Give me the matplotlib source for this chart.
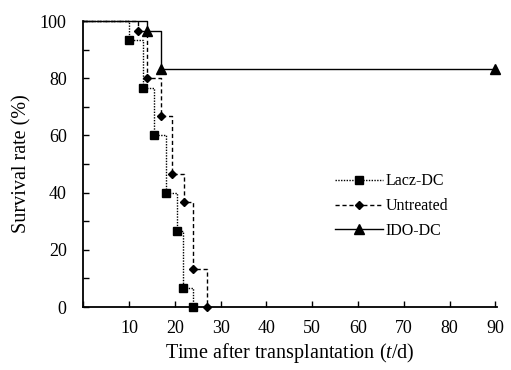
import matplotlib.pyplot as plt
from matplotlib.ticker import MultipleLocator

plt.rcParams['font.family'] = ['Liberation Serif', 'DejaVu Serif']
plt.rcParams['mathtext.fontset'] = 'custom'
plt.rcParams['mathtext.it'] = 'Liberation Serif:italic'
plt.rcParams['mathtext.rm'] = 'Liberation Serif'

# survival data (days, %), first point is the start of the curve
lacz_t = [0, 10, 13, 15.5, 18, 20.5, 21.7, 24]
lacz_s = [100, 93.3, 76.7, 60, 40, 26.7, 6.7, 0]
untr_t = [0, 12, 14, 17, 19.3, 22, 24, 27]
untr_s = [100, 96.7, 80, 66.7, 46.7, 36.7, 13.3, 0]
ido_t = [0, 14, 17, 90]
ido_s = [100, 96.7, 83.3, 83.3]

fig = plt.figure(figsize=(5.11, 3.70), dpi=100)
ax = fig.add_axes([0.163, 0.170, 0.810, 0.773])

ax.plot(lacz_t, lacz_s, color='black', ls=(0, (1, 1)), lw=1.0, drawstyle='steps-post',
        marker='s', ms=6, markevery=slice(1, None), clip_on=False, label='Lacz-DC')
ax.plot(untr_t, untr_s, color='black', ls=(0, (3, 2)), lw=1.0, drawstyle='steps-post',
        marker='D', ms=4.5, markevery=slice(1, None), clip_on=False, label='Untreated')
ax.plot(ido_t, ido_s, color='black', ls='-', lw=1.0, drawstyle='steps-post',
        marker='^', ms=6.5, markevery=slice(1, None), clip_on=False, label='IDO-DC')

ax.set_xlim(0, 90.4)
ax.set_ylim(0, 100)
ax.set_xticks(range(10, 100, 10))
ax.xaxis.set_minor_locator(MultipleLocator(10))
ax.yaxis.set_major_locator(MultipleLocator(20))
ax.yaxis.set_minor_locator(MultipleLocator(10))
ax.tick_params(which='both', direction='in', labelsize=13, width=1)
ax.tick_params(which='major', length=4)
ax.tick_params(which='minor', length=4)
ax.tick_params(axis='x', pad=9)
ax.tick_params(axis='y', pad=12)

for s in ['top', 'right']:
    ax.spines[s].set_visible(False)
for s in ['left', 'bottom']:
    ax.spines[s].set_linewidth(1.3)

ax.set_xlabel('Time after transplantation ($t$/d)', fontsize=14.5, labelpad=3)
ax.set_ylabel('Survival rate (%)', fontsize=14.5, labelpad=6)

ax.legend(loc='center left', bbox_to_anchor=(0.573, 0.353), frameon=False, fontsize=11.5,
          handlelength=3.0, handletextpad=0.2, labelspacing=0.55)

fig.savefig('out.png', dpi=100)
